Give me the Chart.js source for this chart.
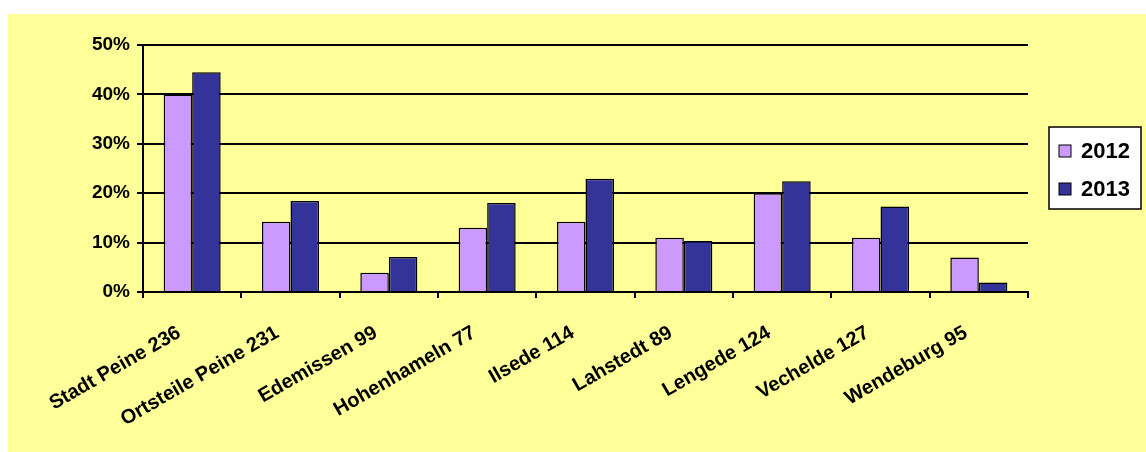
<!DOCTYPE html>
<html>
<head>
<meta charset="utf-8">
<script src="https://cdn.jsdelivr.net/npm/chart.js@4.4.0/dist/chart.umd.min.js"></script>
<style>
  html, body { margin: 0; padding: 0; background: #fff; }
  #wrap { width: 1146px; height: 452px; }
</style>
</head>
<body>
<div id="wrap"><canvas id="chart" width="1146" height="452"></canvas></div>
<script>
// Anteile je Ort, in Prozent
const categories = ["Stadt Peine 236", "Ortsteile Peine 231", "Edemissen 99", "Hohenhameln 77",
  "Ilsede 114", "Lahstedt 89", "Lengede 124", "Vechelde 127", "Wendeburg 95"];
const values2012 = [40.0, 14.2, 3.9, 13.0, 14.2, 11.0, 20.0, 11.0, 7.0];
const values2013 = [44.5, 18.4, 7.1, 18.0, 22.9, 10.3, 22.4, 17.3, 1.9];
const yTicks = [0, 10, 20, 30, 40, 50];

const FONT = "'Liberation Sans', Arial, sans-serif";

const background = {
  id: 'background',
  beforeDraw(chart) {
    const ctx = chart.ctx;
    ctx.save();
    ctx.fillStyle = '#ffffff';
    ctx.fillRect(0, 0, chart.width, chart.height);
    ctx.fillStyle = '#ffff99';
    ctx.fillRect(8, 14, chart.width - 8, chart.height - 14);
    ctx.restore();
  }
};

// legend box like the excel one, on the right
const boxLegend = {
  id: 'boxLegend',
  afterDraw(chart) {
    const ctx = chart.ctx;
    ctx.save();
    ctx.fillStyle = '#ffffff';
    ctx.strokeStyle = '#000000';
    ctx.lineWidth = 1.5;
    ctx.fillRect(1049, 127, 92, 82);
    ctx.strokeRect(1049, 127, 92, 82);
    ctx.font = "bold 22px " + FONT;
    ctx.textBaseline = 'middle';
    chart.data.datasets.forEach((ds, i) => {
      const y = 151 + i * 38;
      ctx.fillStyle = ds.backgroundColor;
      ctx.fillRect(1059, y - 6, 12, 12);
      ctx.lineWidth = 1;
      ctx.strokeRect(1059, y - 6, 12, 12);
      ctx.fillStyle = '#000000';
      ctx.fillText(ds.label, 1081, y + 1);
    });
    ctx.restore();
  }
};

new Chart(document.getElementById('chart'), {
  type: 'bar',
  data: {
    labels: categories,
    datasets: [
      {
        label: '2012',
        data: values2012,
        backgroundColor: '#cc99ff',
        borderColor: '#000000',
        borderWidth: 1.5,
        borderSkipped: 'start'
      },
      {
        label: '2013',
        data: values2013,
        backgroundColor: '#333399',
        borderColor: '#000000',
        borderWidth: 1.5,
        borderSkipped: 'start'
      }
    ]
  },
  options: {
    responsive: false,
    animation: false,
    devicePixelRatio: 1,
    layout: { padding: { left: 0, top: 45, right: 118, bottom: 0 } },
    plugins: {
      legend: { display: false },
      tooltip: { enabled: false }
    },
    datasets: {
      bar: { categoryPercentage: 0.58, barPercentage: 1.0 }
    },
    scales: {
      x: {
        afterFit(scale) { scale.height = 160; },
        grid: {
          display: true,
          drawOnChartArea: false,
          color: '#000000',
          lineWidth: 2,
          tickLength: 6
        },
        border: { display: true, color: '#000000', width: 2 },
        ticks: {
          color: '#000000',
          font: { family: FONT, size: 20, weight: 'bold' },
          minRotation: 30,
          maxRotation: 30,
          autoSkip: false,
          padding: 23,
          labelOffset: -13
        }
      },
      y: {
        min: 0,
        max: 50,
        afterFit(scale) { scale.width = 143; },
        afterBuildTicks(scale) { scale.ticks = yTicks.map(v => ({ value: v })); },
        grid: {
          color: '#000000',
          lineWidth: 2,
          tickLength: 6
        },
        border: { display: true, color: '#000000', width: 2 },
        ticks: {
          color: '#000000',
          font: { family: FONT, size: 19, weight: 'bold' },
          padding: 7,
          callback: v => v + '%'
        }
      }
    }
  },
  plugins: [background, boxLegend]
});
</script>
</body>
</html>
